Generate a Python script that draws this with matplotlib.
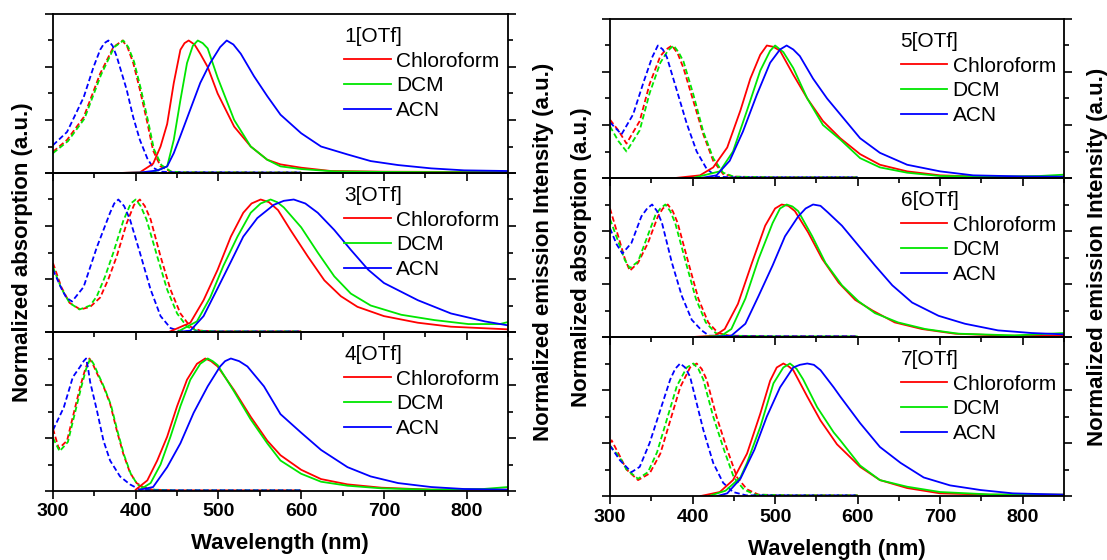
import matplotlib
matplotlib.use('Agg')
import matplotlib.pyplot as plt
from matplotlib.lines import Line2D
from matplotlib.ticker import MultipleLocator

plt.rcParams['font.family'] = ['Liberation Sans', 'DejaVu Sans']

solvents = ['Chloroform', 'DCM', 'ACN']
colors = ['#FF0000', '#00E600', '#0000FF']

# ---- 1[OTf] ----
a1_cf_wl = [300, 317, 337, 357, 373, 384, 390, 397, 405, 414, 421, 430, 442, 460, 500, 550, 600]
a1_cf = [0.16, 0.25, 0.42, 0.75, 0.95, 1.0, 0.95, 0.83, 0.63, 0.38, 0.17, 0.05, 0.01, 0.005, 0.005, 0.004, 0.004]
a1_dcm_wl = [300, 318, 338, 358, 374, 385, 391, 398, 406, 415, 422, 431, 443, 460, 500, 550, 600]
a1_dcm = [0.15, 0.24, 0.41, 0.74, 0.95, 1.0, 0.95, 0.84, 0.64, 0.39, 0.18, 0.06, 0.01, 0.005, 0.005, 0.004, 0.004]
a1_acn_wl = [300, 317, 337, 349, 357, 362, 367, 372, 377, 389, 397, 405, 414, 421, 430, 450, 500, 550, 600]
a1_acn = [0.21, 0.31, 0.57, 0.8, 0.93, 0.98, 1.0, 0.96, 0.88, 0.63, 0.42, 0.25, 0.11, 0.04, 0.01, 0.005, 0.005, 0.004, 0.004]
e1_cf_wl = [380, 405, 421, 430, 438, 446, 454, 459, 464, 471, 478, 487, 499, 519, 539, 559, 575, 600, 636, 700, 780, 850]
e1_cf = [0, 0.005, 0.07, 0.2, 0.37, 0.68, 0.93, 0.98, 1.0, 0.97, 0.9, 0.8, 0.6, 0.35, 0.2, 0.1, 0.065, 0.04, 0.015, 0.01, 0.008, 0.008]
e1_dcm_wl = [380, 420, 438, 446, 454, 462, 469, 475, 481, 487, 499, 519, 539, 559, 575, 600, 640, 700, 780, 850]
e1_dcm = [0, 0.005, 0.05, 0.25, 0.55, 0.83, 0.96, 1.0, 0.98, 0.94, 0.72, 0.4, 0.2, 0.1, 0.05, 0.03, 0.012, 0.008, 0.006, 0.006]
e1_acn_wl = [380, 405, 427, 438, 446, 454, 466, 478, 490, 502, 510, 518, 527, 543, 559, 575, 600, 624, 656, 684, 717, 757, 797, 850]
e1_acn = [0, 0.003, 0.02, 0.05, 0.15, 0.28, 0.48, 0.68, 0.83, 0.95, 1.0, 0.97, 0.9, 0.73, 0.58, 0.44, 0.3, 0.2, 0.14, 0.09, 0.06, 0.035, 0.02, 0.015]

# ---- 3[OTf] ----
a3_cf_wl = [300, 310, 320, 333, 345, 357, 367, 377, 389, 398, 405, 411, 418, 430, 442, 454, 466, 478, 500, 550, 600]
a3_cf = [0.52, 0.34, 0.22, 0.17, 0.19, 0.26, 0.4, 0.57, 0.82, 0.96, 1.0, 0.95, 0.85, 0.57, 0.32, 0.14, 0.04, 0.01, 0.005, 0.005, 0.005]
a3_dcm_wl = [300, 310, 320, 332, 345, 353, 363, 373, 385, 394, 400, 406, 413, 426, 438, 450, 462, 474, 500, 550, 600]
a3_dcm = [0.49, 0.33, 0.22, 0.17, 0.2, 0.27, 0.42, 0.6, 0.84, 0.97, 1.0, 0.95, 0.85, 0.57, 0.32, 0.14, 0.04, 0.01, 0.005, 0.005, 0.005]
a3_acn_wl = [300, 310, 316, 323, 337, 353, 369, 374, 379, 386, 393, 405, 418, 430, 442, 454, 470, 500, 550, 600]
a3_acn = [0.47, 0.33, 0.26, 0.23, 0.34, 0.64, 0.9, 0.97, 1.0, 0.95, 0.85, 0.6, 0.32, 0.12, 0.03, 0.005, 0.004, 0.004, 0.004, 0.004]
e3_cf_wl = [440, 466, 482, 499, 515, 530, 540, 551, 561, 572, 587, 608, 628, 648, 668, 700, 741, 781, 850]
e3_cf = [0, 0.07, 0.24, 0.47, 0.72, 0.9, 0.97, 1.0, 0.98, 0.92, 0.77, 0.57, 0.39, 0.27, 0.19, 0.12, 0.07, 0.04, 0.02]
e3_dcm_wl = [450, 474, 490, 506, 523, 539, 551, 563, 571, 579, 600, 620, 640, 660, 684, 721, 761, 802, 840, 850]
e3_dcm = [0, 0.08, 0.26, 0.5, 0.72, 0.9, 0.97, 1.0, 0.98, 0.94, 0.79, 0.6, 0.42, 0.29, 0.2, 0.13, 0.09, 0.06, 0.06, 0.075]
e3_acn_wl = [450, 466, 482, 499, 515, 530, 547, 567, 579, 591, 605, 620, 640, 660, 681, 700, 741, 781, 822, 850]
e3_acn = [0, 0.01, 0.12, 0.33, 0.53, 0.72, 0.86, 0.96, 0.99, 1.0, 0.97, 0.9, 0.77, 0.62, 0.47, 0.37, 0.24, 0.14, 0.08, 0.05]

# ---- 4[OTf] ----
a4_cf_wl = [300, 307, 317, 324, 333, 339, 344, 348, 353, 361, 369, 377, 385, 393, 401, 409, 420, 450, 500, 550, 600]
a4_cf = [0.47, 0.32, 0.38, 0.56, 0.79, 0.92, 1.0, 0.96, 0.89, 0.79, 0.66, 0.46, 0.28, 0.14, 0.06, 0.03, 0.01, 0.005, 0.005, 0.005, 0.005]
a4_dcm_wl = [300, 308, 318, 325, 334, 340, 345, 349, 354, 362, 370, 378, 386, 394, 402, 410, 420, 450, 500, 550, 600]
a4_dcm = [0.4, 0.3, 0.37, 0.55, 0.78, 0.92, 1.0, 0.96, 0.89, 0.78, 0.65, 0.45, 0.27, 0.13, 0.05, 0.02, 0.01, 0.005, 0.005, 0.005, 0.005]
a4_acn_wl = [300, 313, 324, 333, 337, 340, 342, 345, 353, 361, 369, 381, 393, 405, 420, 450, 500, 550, 600]
a4_acn = [0.46, 0.63, 0.86, 0.94, 0.98, 1.0, 0.94, 0.82, 0.61, 0.38, 0.23, 0.11, 0.05, 0.01, 0.005, 0.005, 0.005, 0.005, 0.005]
e4_cf_wl = [400, 414, 426, 438, 450, 462, 474, 484, 491, 499, 519, 539, 559, 575, 600, 624, 656, 697, 757, 850]
e4_cf = [0.01, 0.08, 0.23, 0.41, 0.64, 0.84, 0.96, 1.0, 0.98, 0.94, 0.76, 0.56, 0.38, 0.27, 0.16, 0.09, 0.05, 0.025, 0.01, 0.01]
e4_dcm_wl = [405, 418, 430, 442, 454, 466, 478, 487, 493, 499, 519, 539, 559, 575, 600, 624, 656, 697, 757, 820, 850]
e4_dcm = [0.01, 0.06, 0.2, 0.41, 0.64, 0.84, 0.96, 1.0, 0.98, 0.95, 0.75, 0.54, 0.36, 0.23, 0.13, 0.07, 0.04, 0.02, 0.01, 0.015, 0.03]
e4_acn_wl = [405, 421, 438, 454, 470, 487, 502, 508, 515, 525, 535, 555, 575, 600, 624, 656, 684, 717, 757, 797, 850]
e4_acn = [0.01, 0.03, 0.18, 0.36, 0.59, 0.79, 0.94, 0.98, 1.0, 0.98, 0.94, 0.79, 0.58, 0.44, 0.31, 0.18, 0.11, 0.06, 0.03, 0.015, 0.01]

# ---- 5[OTf] ----
a5_cf_wl = [300, 310, 320, 336, 348, 361, 368, 375, 382, 389, 401, 413, 425, 437, 450, 500, 550, 600]
a5_cf = [0.44, 0.36, 0.26, 0.43, 0.71, 0.92, 0.97, 1.0, 0.94, 0.83, 0.58, 0.33, 0.13, 0.03, 0.01, 0.005, 0.005, 0.005]
a5_dcm_wl = [300, 310, 320, 336, 348, 361, 370, 377, 383, 389, 401, 413, 425, 437, 450, 500, 550, 600]
a5_dcm = [0.39, 0.28, 0.2, 0.36, 0.64, 0.87, 0.96, 1.0, 0.95, 0.88, 0.63, 0.35, 0.15, 0.04, 0.01, 0.005, 0.005, 0.005]
a5_acn_wl = [300, 314, 328, 341, 351, 358, 364, 369, 381, 393, 405, 417, 429, 450, 500, 550, 600]
a5_acn = [0.42, 0.33, 0.48, 0.73, 0.91, 1.0, 0.97, 0.91, 0.66, 0.41, 0.2, 0.07, 0.01, 0.005, 0.005, 0.005, 0.005]
e5_cf_wl = [379, 409, 425, 442, 458, 470, 482, 490, 498, 506, 522, 539, 558, 579, 603, 627, 660, 700, 760, 850]
e5_cf = [0, 0.02, 0.08, 0.23, 0.51, 0.75, 0.93, 1.0, 0.99, 0.96, 0.78, 0.6, 0.43, 0.3, 0.18, 0.1, 0.05, 0.02, 0.008, 0.01]
e5_dcm_wl = [400, 433, 449, 466, 482, 494, 500, 510, 522, 539, 558, 579, 603, 627, 660, 700, 760, 820, 850]
e5_dcm = [0, 0.05, 0.2, 0.51, 0.81, 0.96, 1.0, 0.95, 0.83, 0.6, 0.4, 0.29, 0.15, 0.08, 0.04, 0.015, 0.01, 0.015, 0.025]
e5_acn_wl = [410, 429, 445, 461, 478, 494, 506, 514, 522, 530, 546, 563, 579, 603, 627, 660, 700, 740, 800, 850]
e5_acn = [0, 0.02, 0.13, 0.35, 0.63, 0.87, 0.97, 1.0, 0.97, 0.92, 0.75, 0.6, 0.48, 0.3, 0.19, 0.1, 0.05, 0.02, 0.012, 0.01]

# ---- 6[OTf] ----
a6_cf_wl = [300, 310, 318, 324, 334, 346, 358, 364, 370, 376, 382, 395, 407, 419, 431, 445, 500, 550, 600]
a6_cf = [0.97, 0.76, 0.59, 0.5, 0.56, 0.71, 0.91, 0.97, 1.0, 0.95, 0.86, 0.56, 0.29, 0.11, 0.03, 0.01, 0.005, 0.005, 0.005]
a6_dcm_wl = [300, 310, 318, 324, 334, 343, 355, 361, 367, 373, 379, 392, 404, 416, 428, 442, 500, 550, 600]
a6_dcm = [0.89, 0.72, 0.58, 0.52, 0.57, 0.72, 0.92, 0.97, 1.0, 0.95, 0.86, 0.56, 0.29, 0.11, 0.03, 0.01, 0.005, 0.005, 0.005]
a6_acn_wl = [300, 308, 315, 326, 338, 345, 351, 357, 363, 375, 387, 399, 411, 420, 450, 500, 550, 600]
a6_acn = [0.82, 0.7, 0.63, 0.71, 0.91, 0.97, 1.0, 0.95, 0.86, 0.56, 0.31, 0.13, 0.05, 0.01, 0.005, 0.005, 0.005, 0.005]
e6_cf_wl = [400, 427, 439, 455, 472, 488, 500, 508, 516, 524, 540, 557, 577, 597, 618, 645, 678, 718, 779, 850]
e6_cf = [0, 0.01, 0.06, 0.25, 0.56, 0.84, 0.97, 1.0, 0.99, 0.95, 0.79, 0.59, 0.41, 0.28, 0.2, 0.11, 0.06, 0.025, 0.01, 0.01]
e6_dcm_wl = [410, 435, 447, 464, 480, 497, 506, 514, 521, 528, 545, 561, 581, 601, 621, 649, 682, 722, 790, 850]
e6_dcm = [0, 0.01, 0.06, 0.29, 0.59, 0.86, 0.97, 1.0, 0.985, 0.95, 0.76, 0.56, 0.39, 0.27, 0.18, 0.11, 0.06, 0.025, 0.012, 0.03]
e6_acn_wl = [420, 447, 464, 480, 497, 512, 528, 537, 546, 555, 564, 581, 601, 621, 642, 666, 698, 730, 770, 811, 850]
e6_acn = [0, 0.01, 0.1, 0.31, 0.54, 0.76, 0.91, 0.97, 1.0, 0.99, 0.94, 0.84, 0.69, 0.54, 0.39, 0.26, 0.16, 0.1, 0.05, 0.03, 0.02]

# ---- 7[OTf] ----
a7_cf_wl = [300, 302, 312, 320, 334, 348, 361, 373, 385, 397, 405, 411, 417, 429, 442, 454, 466, 480, 520, 560, 600]
a7_cf = [0.4, 0.42, 0.3, 0.2, 0.12, 0.17, 0.32, 0.57, 0.82, 0.97, 1.0, 0.96, 0.88, 0.6, 0.35, 0.14, 0.05, 0.01, 0.005, 0.005, 0.005]
a7_dcm_wl = [300, 312, 320, 334, 346, 357, 369, 381, 393, 401, 407, 413, 425, 438, 450, 462, 476, 520, 560, 600]
a7_dcm = [0.38, 0.29, 0.2, 0.13, 0.18, 0.33, 0.58, 0.83, 0.97, 1.0, 0.96, 0.88, 0.6, 0.35, 0.14, 0.05, 0.01, 0.005, 0.005, 0.005]
a7_acn_wl = [300, 312, 326, 336, 348, 361, 373, 379, 385, 391, 397, 405, 413, 425, 437, 449, 465, 520, 560, 600]
a7_acn = [0.38, 0.27, 0.18, 0.22, 0.4, 0.65, 0.88, 0.96, 1.0, 0.97, 0.9, 0.7, 0.5, 0.25, 0.1, 0.03, 0.005, 0.005, 0.005, 0.005]
e7_cf_wl = [410, 433, 449, 466, 482, 494, 502, 510, 516, 522, 539, 555, 575, 603, 627, 660, 700, 760, 850]
e7_cf = [0, 0.03, 0.12, 0.32, 0.62, 0.87, 0.97, 1.0, 0.98, 0.95, 0.75, 0.57, 0.39, 0.22, 0.12, 0.06, 0.02, 0.01, 0.01]
e7_dcm_wl = [420, 440, 458, 466, 482, 498, 510, 518, 526, 534, 551, 571, 579, 603, 627, 660, 700, 760, 850]
e7_dcm = [0, 0.04, 0.14, 0.25, 0.52, 0.85, 0.97, 1.0, 0.96, 0.88, 0.67, 0.48, 0.42, 0.23, 0.12, 0.07, 0.03, 0.012, 0.01]
e7_acn_wl = [430, 442, 458, 475, 490, 506, 522, 530, 539, 547, 555, 571, 579, 603, 627, 652, 680, 712, 749, 788, 850]
e7_acn = [0, 0.02, 0.13, 0.35, 0.6, 0.82, 0.97, 0.99, 1.0, 0.99, 0.95, 0.82, 0.75, 0.55, 0.37, 0.25, 0.14, 0.08, 0.045, 0.02, 0.01]

panels = [
    ('1[OTf]', [(a1_cf_wl, a1_cf), (a1_dcm_wl, a1_dcm), (a1_acn_wl, a1_acn)],
     [(e1_cf_wl, e1_cf), (e1_dcm_wl, e1_dcm), (e1_acn_wl, e1_acn)]),
    ('3[OTf]', [(a3_cf_wl, a3_cf), (a3_dcm_wl, a3_dcm), (a3_acn_wl, a3_acn)],
     [(e3_cf_wl, e3_cf), (e3_dcm_wl, e3_dcm), (e3_acn_wl, e3_acn)]),
    ('4[OTf]', [(a4_cf_wl, a4_cf), (a4_dcm_wl, a4_dcm), (a4_acn_wl, a4_acn)],
     [(e4_cf_wl, e4_cf), (e4_dcm_wl, e4_dcm), (e4_acn_wl, e4_acn)]),
    ('5[OTf]', [(a5_cf_wl, a5_cf), (a5_dcm_wl, a5_dcm), (a5_acn_wl, a5_acn)],
     [(e5_cf_wl, e5_cf), (e5_dcm_wl, e5_dcm), (e5_acn_wl, e5_acn)]),
    ('6[OTf]', [(a6_cf_wl, a6_cf), (a6_dcm_wl, a6_dcm), (a6_acn_wl, a6_acn)],
     [(e6_cf_wl, e6_cf), (e6_dcm_wl, e6_dcm), (e6_acn_wl, e6_acn)]),
    ('7[OTf]', [(a7_cf_wl, a7_cf), (a7_dcm_wl, a7_dcm), (a7_acn_wl, a7_acn)],
     [(e7_cf_wl, e7_cf), (e7_dcm_wl, e7_dcm), (e7_acn_wl, e7_acn)]),
]

W, H = 1107, 560
fig = plt.figure(figsize=(W / 100, H / 100), dpi=100, facecolor='white')

# axes boxes in pixels: (left, right, bottom of lowest panel)
groups = [(53, 508, 491), (610, 1064, 496)]
ph = 159

axes = []
for gi, (x0, x1, yb) in enumerate(groups):
    for row in range(3):
        bottom_px = yb - (2 - row) * ph
        rect = [x0 / W, 1 - bottom_px / H, (x1 - x0) / W, ph / H]
        ax = fig.add_axes(rect)
        ax.patch.set_alpha(0)
        axes.append((ax, row == 2))

for (ax, is_bottom), (title, abs_data, em_data) in zip(axes, panels):
    for (wl, v), c in zip(abs_data, colors):
        ax.plot(wl, v, color=c, lw=1.3, linestyle=(0, (3, 1.6)))
    for (wl, v), c in zip(em_data, colors):
        ax.plot(wl, v, color=c, lw=1.3)

    ax.set_xlim(300, 850)
    ax.set_ylim(0, 1.2)
    ax.xaxis.set_major_locator(MultipleLocator(100))
    ax.xaxis.set_minor_locator(MultipleLocator(50))
    ax.yaxis.set_major_locator(MultipleLocator(0.4))
    ax.yaxis.set_minor_locator(MultipleLocator(0.2))
    ax.tick_params(which='both', direction='out', left=True, right=True, top=False,
                   labelleft=False, labelright=False, labelbottom=is_bottom,
                   width=1.2, pad=3)
    ax.tick_params(which='major', length=6)
    ax.tick_params(which='minor', length=3.5)
    for lab in ax.get_xticklabels():
        lab.set_fontsize(14)
        lab.set_fontweight('bold')
    for s in ax.spines.values():
        s.set_linewidth(1.3)

    handles = [Line2D([], [], color=c, lw=1.3) for c in colors]
    ax.legend(handles, solvents, title=title, loc='upper left',
              bbox_to_anchor=(0.64, 0.918), frameon=False, fontsize=15,
              title_fontsize=15, handlelength=2.25, handletextpad=0.25,
              labelspacing=0.27, borderpad=0, borderaxespad=0, alignment='left')

# axis titles: absorption on the left of each group, emission on the right
lab_kw = dict(rotation=90, ha='center', va='center', fontsize=16, fontweight='bold')
fig.text(23 / W, 1 - 252 / H, 'Normalized absorption (a.u.)', **lab_kw)
fig.text(544 / W, 1 - 252 / H, 'Normalized emission Intensity (a.u.)', **lab_kw)
fig.text(581 / W, 1 - 257 / H, 'Normalized absorption (a.u.)', **lab_kw)
fig.text(1097 / W, 1 - 257 / H, 'Normalized emission Intensity (a.u.)', **lab_kw)
fig.text(280 / W, 1 - 543 / H, 'Wavelength (nm)', ha='center', va='center',
         fontsize=16, fontweight='bold')
fig.text(837 / W, 1 - 549 / H, 'Wavelength (nm)', ha='center', va='center',
         fontsize=16, fontweight='bold')

fig.savefig('out.png', dpi=100, facecolor='white')
